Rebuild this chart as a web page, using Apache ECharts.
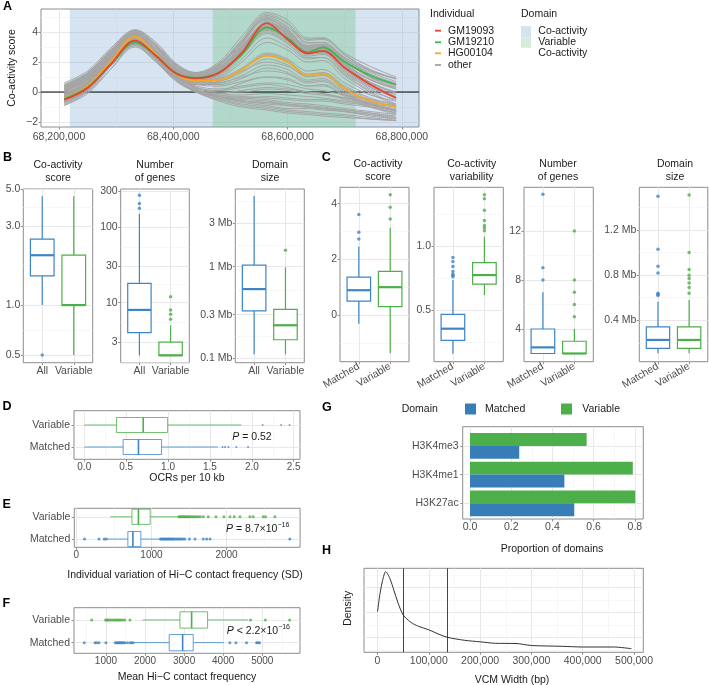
<!DOCTYPE html>
<html><head><meta charset="utf-8">
<script src="https://cdn.jsdelivr.net/npm/echarts@6/dist/echarts.min.js"></script>
<style>html,body{margin:0;padding:0;background:#fff}#c{width:709px;height:685px}</style>
</head><body><div id="c"></div>
<script>
// ---------------- DATA ----------------
// Panel A: co-activity score along the locus
const aX = [68209000, 68250000, 68290000, 68333000, 68370000, 68405000, 68440000, 68480000, 68520000, 68564000, 68600000, 68635000, 68662000, 68700000, 68745000, 68790000];
const aRed = [-0.52, 0.27, 1.84, 3.42, 2.4, 1.24, 0.92, 1.28, 2.63, 4.58, 3.5, 2.58, 2.74, 1.62, 0.5, -0.4];
const aGreen = [-0.45, 0.3, 1.8, 3.3, 2.4, 1.25, 0.95, 1.3, 2.5, 4.31, 3.6, 2.65, 2.97, 2.0, 1.1, 0.5];
const aOrange = [-0.45, 0.4, 2.0, 3.69, 2.5, 1.2, 0.75, 0.8, 1.5, 2.42, 2.0, 1.1, 1.22, 0.2, -0.6, -0.97];
const aGray = [
  [-0.9, -0.1, 1.5, 3.1, 2.0, 1.0, 0.7, 1.2, 2.7, 4.7, 4.1, 3.1, 3.2, 2.3, 1.4, 0.9],
  [0.6, 1.4, 2.9, 4.15, 3.3, 1.9, 1.3, 2.0, 3.7, 5.3, 4.8, 3.6, 3.6, 2.5, 1.5, 0.9],
  [0.2, 1.0, 2.5, 3.9, 2.9, 1.6, 1.0, 1.5, 3.2, 4.9, 4.1, 2.9, 3.0, 1.9, 0.8, 0.2],
  [-0.3, 0.6, 2.1, 3.6, 2.6, 1.4, 0.9, 1.4, 2.9, 4.4, 3.7, 2.7, 2.8, 1.6, 0.5, -0.2],
  [-0.7, 0.2, 1.8, 3.3, 2.3, 1.2, 0.8, 1.1, 2.4, 4.0, 3.3, 2.4, 2.5, 1.3, 0.2, -0.6],
  [0.0, 0.8, 2.3, 3.8, 2.8, 1.5, 1.1, 1.6, 3.0, 4.6, 4.0, 3.0, 3.1, 2.2, 1.2, 0.6],
  [-0.5, 0.4, 2.0, 3.5, 2.5, 1.3, 0.7, 1.0, 2.2, 3.6, 3.0, 2.2, 2.3, 1.1, 0.0, -0.8],
  [0.3, 1.1, 2.6, 4.0, 3.0, 1.7, 1.3, 1.9, 3.4, 5.1, 4.5, 3.3, 3.3, 2.3, 1.4, 0.9],
  [-0.2, 0.6, 2.2, 3.7, 2.7, 1.5, 1.0, 1.5, 2.7, 4.2, 3.5, 2.5, 2.6, 1.4, 0.3, -0.4],
  [-0.8, 0.1, 1.7, 3.2, 2.2, 1.0, 0.6, 0.9, 2.0, 3.3, 2.8, 2.0, 2.1, 0.9, -0.1, -0.9],
  [0.1, 0.9, 2.4, 3.8, 2.8, 1.6, 1.2, 1.8, 3.4, 5.0, 4.3, 3.5, 3.6, 2.6, 1.7, 1.0],
  [-0.4, 0.5, 2.0, 3.4, 2.4, 1.3, 0.9, 1.3, 2.6, 4.1, 3.4, 2.6, 2.8, 1.8, 0.8, 0.3],
  [0.4, 1.2, 2.7, 4.05, 3.1, 1.8, 1.2, 1.7, 3.3, 4.8, 4.2, 3.0, 3.0, 1.8, 0.6, -0.1],
  [-0.6, 0.3, 1.9, 3.4, 2.4, 1.2, 0.8, 1.3, 2.9, 4.5, 3.9, 2.8, 2.9, 2.0, 1.0, 0.5],
  [0.5, 1.3, 2.8, 4.1, 3.1, 1.7, 1.1, 1.6, 3.1, 4.6, 3.8, 2.6, 2.6, 1.5, 0.4, -0.3],
  [-0.1, 0.7, 2.2, 3.6, 2.6, 1.4, 0.9, 1.2, 2.5, 3.9, 3.2, 2.3, 2.3, 1.2, 0.1, -0.5],
  [0.45, 1.25, 2.75, 4.1, 3.2, 1.85, 1.25, 1.85, 3.5, 5.2, 4.6, 3.45, 3.5, 2.45, 1.45, 0.85],
  [0.25, 1.05, 2.55, 3.95, 3.0, 1.7, 1.15, 1.7, 3.3, 5.0, 4.35, 3.25, 3.3, 2.2, 1.1, 0.45],
  [-0.15, 0.65, 2.15, 3.65, 2.7, 1.5, 1.0, 1.45, 3.0, 4.65, 4.0, 2.95, 3.05, 2.05, 1.0, 0.4],
  [-0.45, 0.45, 1.95, 3.45, 2.5, 1.35, 0.85, 1.3, 2.8, 4.35, 3.75, 2.75, 2.85, 1.85, 0.85, 0.2],
  [0.05, 0.85, 2.35, 3.75, 2.75, 1.45, 0.95, 1.4, 2.85, 4.45, 3.85, 2.8, 2.9, 1.75, 0.65, 0.0],
  [-0.65, 0.25, 1.85, 3.3, 2.35, 1.2, 0.75, 1.15, 2.55, 4.15, 3.55, 2.55, 2.65, 1.5, 0.35, -0.35],
  [0.35, 1.15, 2.65, 4.0, 3.05, 1.75, 1.2, 1.75, 3.25, 4.85, 4.15, 3.1, 3.15, 2.1, 0.95, 0.3],
  [-0.25, 0.55, 2.05, 3.5, 2.55, 1.35, 0.85, 1.25, 2.65, 4.25, 3.6, 2.6, 2.7, 1.65, 0.6, -0.05],
  [0.15, 0.95, 2.45, 3.85, 2.9, 1.6, 1.05, 1.55, 3.05, 4.55, 3.95, 2.9, 3.0, 2.15, 1.3, 0.7],
  [-0.3, 0.6, 2.2, 3.7, 2.6, 1.2, 0.6, 0.7, 1.3, 2.2, 1.8, 1.0, 1.1, 0.1, -0.7, -1.2],
  [0.1, 0.9, 2.5, 3.9, 2.8, 1.3, 0.6, 0.6, 1.1, 1.8, 1.5, 0.8, 0.9, 0.0, -0.8, -1.3],
  [-0.6, 0.2, 1.8, 3.3, 2.3, 1.0, 0.5, 0.6, 1.0, 1.4, 1.2, 0.6, 0.7, -0.2, -0.9, -1.4],
  [0.4, 1.2, 2.7, 4.0, 3.0, 1.5, 0.8, 0.9, 1.6, 2.6, 2.2, 1.4, 1.5, 0.6, -0.2, -0.6],
  [-0.2, 0.7, 2.3, 3.6, 2.6, 1.2, 0.5, 0.4, 0.7, 1.0, 0.9, 0.4, 0.5, -0.3, -1.0, -1.5],
  [-0.7, 0.1, 1.7, 3.2, 2.2, 1.0, 0.5, 0.7, 1.4, 2.0, 1.7, 1.1, 1.2, 0.3, -0.5, -1.0],
  [0.2, 1.0, 2.5, 3.8, 2.7, 1.3, 0.7, 0.8, 1.5, 2.5, 2.1, 1.2, 1.3, 0.4, -0.4, -0.9],
  [-0.4, 0.4, 2.0, 3.4, 2.4, 1.1, 0.5, 0.5, 0.9, 1.6, 1.3, 0.7, 0.8, -0.1, -0.8, -1.3],
  [-0.5, 0.4, 2.0, 3.5, 2.3, 0.9, 0.1, -0.3, -0.5, -0.6, -0.8, -0.9, -1.0, -1.2, -1.4, -1.6],
  [0.0, 0.8, 2.3, 3.7, 2.5, 1.0, 0.2, -0.2, -0.3, -0.4, -0.5, -0.6, -0.6, -0.8, -1.0, -1.2],
  [-0.8, 0.1, 1.7, 3.1, 2.0, 0.7, 0.0, -0.5, -0.8, -1.0, -1.2, -1.3, -1.4, -1.5, -1.7, -1.9],
  [0.3, 1.1, 2.6, 3.9, 2.7, 1.2, 0.3, -0.1, -0.2, -0.1, -0.2, -0.3, -0.4, -0.6, -0.8, -1.0],
  [-0.4, 0.5, 2.1, 3.5, 2.4, 1.0, 0.2, -0.4, -0.7, -0.9, -1.1, -1.1, -1.2, -1.3, -1.5, -1.7],
  [-0.2, 0.6, 2.1, 3.4, 2.3, 0.9, 0.0, -0.3, -0.4, -0.3, -0.4, -0.5, -0.5, -0.7, -0.9, -1.1],
  [0.2, 1.0, 2.4, 3.6, 2.5, 1.1, 0.3, 0.0, 0.0, 0.2, 0.1, -0.1, -0.2, -0.4, -0.7, -0.9],
  [-0.6, 0.3, 1.9, 3.2, 2.1, 0.8, 0.0, -0.6, -1.0, -1.2, -1.4, -1.5, -1.6, -1.7, -1.8, -1.9],
  [-0.1, 0.7, 2.2, 3.6, 2.4, 1.0, 0.4, 0.2, 0.4, 0.6, 0.5, 0.2, 0.1, -0.2, -0.5, -0.8],
  [-0.9, 0.0, 1.5, 3.0, 2.0, 0.8, 0.1, -0.4, -0.6, -0.8, -0.9, -1.0, -1.1, -1.3, -1.6, -1.8],
  [0.1, 0.9, 2.4, 3.8, 2.6, 1.1, 0.2, -0.3, -0.6, -0.7, -0.9, -1.0, -1.1, -1.3, -1.5, -1.8],
  [-0.3, 0.5, 2.0, 3.4, 2.2, 0.9, 0.1, -0.1, 0.1, 0.3, 0.2, 0.0, -0.1, -0.5, -1.0, -1.4],
  [-0.3, 0.5, 2.0, 3.3, 2.2, 0.8, 0.0, -0.5, -0.9, -1.1, -1.3, -1.4, -1.5, -1.6, -1.8, -1.9],
  [0.0, 0.8, 2.2, 3.5, 2.3, 0.9, 0.1, -0.2, -0.4, -0.5, -0.7, -0.8, -0.9, -1.1, -1.3, -1.5],
  [-0.7, 0.2, 1.8, 3.2, 2.1, 0.8, 0.1, -0.3, -0.6, -0.7, -0.8, -1.0, -1.1, -1.2, -1.4, -1.7],
  [0.4, 1.2, 2.6, 3.8, 2.6, 1.1, 0.3, 0.1, 0.3, 0.5, 0.3, 0.0, -0.1, -0.4, -0.8, -1.2],
  [-0.5, 0.3, 1.9, 3.3, 2.3, 1.0, 0.3, 0.1, 0.6, 1.0, 0.8, 0.4, 0.4, -0.2, -0.8, -1.3]
];
const aDomainBlue = [68219000, 68830000];
const aDomainGreen = [68469000, 68719000];
const aXTicks = [68200000, 68400000, 68600000, 68800000];
const aYTicks = [-2, 0, 2, 4];
const aNames = ['GM19093', 'GM19210', 'HG00104', 'other'];

// Panel B: [low whisker, Q1, median, Q3, high whisker] + outliers
const bCats = ['All', 'Variable'];
const b1Box = [[1.0, 1.5, 2.0, 2.5, 4.54], [0.5, 1.0, 1.0, 2.0, 4.54]];
const b1Out = [[0.5], []];
const b1Ticks = [0.5, 1.0, 3.0, 5.0];
const b2Box = [[2, 4, 8, 18, 150], [2, 2, 2, 3, 5]];
const b2Out = [[178, 205, 264], [6, 7, 8, 12]];
const b2Ticks = [3, 10, 30, 100, 300];
const b3Box = [[0.111, 0.33, 0.57, 1.04, 5.9], [0.111, 0.16, 0.23, 0.343, 0.985]];
const b3Out = [[], [1.51]];
const b3Ticks = [0.1, 0.3, 1, 3];

// Panel C
const cCats = ['Matched', 'Variable'];
const c1Box = [[-0.32, 0.5, 0.89, 1.36, 2.46], [-1.38, 0.3, 1.0, 1.57, 3.14]];
const c1Out = [[2.73, 2.97, 3.61], [3.45, 3.87, 4.32]];
const c2Box = [[0.159, 0.263, 0.354, 0.466, 0.734], [0.617, 0.703, 0.773, 0.87, 1.073]];
const c2Out = [[0.76, 0.77, 0.78, 0.80, 0.84, 0.88, 0.91], [1.12, 1.14, 1.16, 1.20, 1.28, 1.37, 1.40]];
const c3Box = [[2, 2, 2.5, 4, 7], [2, 2, 2, 3, 4]];
const c3Out = [[8, 9, 15], [5, 6, 7, 8, 12]];
const c4Box = [[0.107, 0.152, 0.226, 0.341, 0.565], [0.107, 0.152, 0.226, 0.341, 0.58]];
const c4Out = [[0.62, 0.63, 0.64, 0.82, 0.88, 1.03, 1.50], [0.64, 0.69, 0.73, 0.77, 0.80, 0.85, 1.0, 1.51]];

// Panels D, E, F (index 0 = Matched, 1 = Variable)
const dBox = [[0, 0.464, 0.647, 0.923, 1.595], [0, 0.384, 0.704, 0.995, 1.875]];
const dOut = [[1.65, 1.68, 1.72, 1.815, 1.955], [2.13, 2.35, 2.45]];
const dTicks = [0, 0.5, 1.0, 1.5, 2.0, 2.5];
const eBox = [[407, 686, 753, 859, 1115], [451, 740, 827, 983, 1359]];
const eOut = [
  [110, 301, 372, 398, 1120, 1135, 1150, 1165, 1180, 1195, 1210, 1225, 1240, 1255, 1270, 1285, 1300, 1320, 1340, 1360, 1380, 1400, 1420, 1445, 1505, 1580, 1690, 1735, 1780, 2842],
  [1365, 1380, 1395, 1410, 1425, 1440, 1455, 1470, 1485, 1500, 1520, 1540, 1560, 1580, 1600, 1625, 1650, 1690, 1757, 1859, 1965, 2045, 2102, 2178, 2311, 2355, 2488, 2519, 2643]
];
const eTicks = [0, 1000, 2000];
const fBox = [[1742, 2619, 2962, 3233, 4018], [1939, 2893, 3192, 3601, 4640]];
const fOut = [
  [445, 720, 760, 820, 1000, 1240, 1270, 1300, 1330, 1360, 1390, 1420, 1450, 1480, 1550, 1620, 1660, 1700, 4171, 4325, 4598, 4855, 4890, 4930],
  [634, 990, 1020, 1050, 1090, 1130, 1180, 1220, 1260, 1300, 1340, 1380, 1430, 1480, 1614, 4700, 5080, 5700]
];
const fTicks = [1000, 2000, 3000, 4000, 5000];

// Panel G
const gMarks = ['H3K27ac', 'H3K4me1', 'H3K4me3'];
const gMatched = [0.506, 0.458, 0.239];
const gVariable = [0.802, 0.79, 0.566];
const gTicks = [0, 0.2, 0.4, 0.6, 0.8];

// Panel H: density of VCM width
const hX = [0, 5000, 10000, 16000, 24000, 32000, 40000, 50000, 65000, 80000, 100000, 120000, 136000, 170000, 200000, 230000, 270000, 300000, 360000, 400000, 460000, 495000];
const hDensity = [4.06, 5.9, 7.2, 8.06, 7.4, 6.2, 4.95, 3.75, 3.0, 2.6, 2.25, 1.8, 1.5, 1.2, 1.05, 0.9, 0.88, 0.68, 0.6, 0.53, 0.53, 0.36];
const hVlines = [50300, 136000];
const hTicks = [0, 100000, 200000, 300000, 400000, 500000];

// ---------------- STYLE / BUILD ----------------
const FONT = '"Liberation Sans", Arial, Helvetica, sans-serif';
const BLUE = '#3d85c6', GREEN = '#4daf4a';
const BAR_BLUE = '#377eb8', BAR_GREEN = '#4daf4a';
const grids = [], xAxes = [], yAxes = [], series = [], graphics = [];
const L10 = Math.log10;
const comma = v => Math.round(v).toString().replace(/\B(?=(\d{3})+(?!\d))/g, ',');
const minus = s => String(s).replace('-', '\u2212');

function mkAxis(gi, dim, o, minor) {
  const base = {
    type: 'value', gridIndex: gi, min: o.min, max: o.max,
    position: dim === 'x' ? 'bottom' : 'left',
    axisLine: { show: false, onZero: false },
    splitArea: { show: false }
  };
  if (minor) {
    const m = o.minors || [];
    return Object.assign(base, {
      axisTick: { show: false, customValues: m },
      axisLabel: { show: false, customValues: m },
      splitLine: { show: m.length > 0, lineStyle: { color: '#f1f1f1', width: 0.6 } }
    });
  }
  return Object.assign(base, {
    axisTick: { show: o.tick !== false, customValues: o.majors, length: 2.5, lineStyle: { color: '#666', width: 0.7 } },
    axisLabel: { show: o.label !== false, customValues: o.majors, formatter: o.fmt, color: '#4d4d4d',
      fontSize: o.fs || 10.5, fontFamily: FONT, margin: (o.margin != null ? o.margin : 3), rotate: o.rotate || 0 },
    splitLine: { show: o.grid !== false, lineStyle: { color: '#e8e8e8', width: 1 } }
  });
}
function addPanel(box, xo, yo) {
  const gi = grids.length;
  grids.push({ left: box[0], top: box[1], width: box[2], height: box[3], show: true,
    borderColor: '#8c8c8c', borderWidth: 1, backgroundColor: '#fff', containLabel: false });
  const xi = xAxes.length, yi = yAxes.length;
  xAxes.push(mkAxis(gi, 'x', xo, false)); xAxes.push(mkAxis(gi, 'x', xo, true));
  yAxes.push(mkAxis(gi, 'y', yo, false)); yAxes.push(mkAxis(gi, 'y', yo, true));
  return { xi, yi };
}
function boxSeries(p, stats, tf, colors, o) {
  const data = stats.map((s, i) => [i + 1].concat(s.map(tf)).concat([i]));
  series.push({
    type: 'custom', xAxisIndex: p.xi, yAxisIndex: p.yi, data, z: 5, silent: true,
    renderItem(params, api) {
      const pos = api.value(0), lo = api.value(1), q1 = api.value(2), med = api.value(3), q3 = api.value(4), hi = api.value(5);
      const col = colors[api.value(6)];
      const P = (a, v) => o.horiz ? api.coord([v, a]) : api.coord([a, v]);
      const hw = o.half;
      const ln = (a, b, w) => ({ type: 'line', shape: { x1: a[0], y1: a[1], x2: b[0], y2: b[1] }, style: { stroke: col, lineWidth: w } });
      const a = P(pos - hw, q1), b = P(pos + hw, q3);
      return { type: 'group', children: [
        ln(P(pos, lo), P(pos, q1), o.lw),
        ln(P(pos, q3), P(pos, hi), o.lw),
        { type: 'rect', shape: { x: Math.min(a[0], b[0]), y: Math.min(a[1], b[1]), width: Math.abs(b[0] - a[0]), height: Math.abs(b[1] - a[1]) },
          style: { fill: '#fff', stroke: col, lineWidth: o.lw } },
        ln(P(pos - hw, med), P(pos + hw, med), o.mw)
      ] };
    }
  });
}
function outSeries(p, outs, tf, colors, o) {
  outs.forEach((arr, i) => {
    series.push({ type: 'scatter', xAxisIndex: p.xi, yAxisIndex: p.yi, silent: true, z: 6,
      symbolSize: o.size, itemStyle: { color: colors[i] },
      data: arr.map(v => o.horiz ? [tf(v), i + 1] : [i + 1, tf(v)]) });
  });
}
function txt(s, x, y, o) {
  o = o || {};
  const st = { text: s, fill: o.color || '#1a1a1a', fontSize: o.fs || 10.5, fontFamily: FONT,
    fontWeight: o.bold ? 'bold' : 'normal', fontStyle: o.italic ? 'italic' : 'normal',
    align: o.align || 'left', verticalAlign: o.valign || 'middle',
    textAlign: o.align || 'left', textVerticalAlign: o.valign || 'middle' };
  if (o.lh) st.lineHeight = o.lh;
  if (o.rich) st.rich = o.rich;
  graphics.push({ type: 'text', x, y, rotation: o.rot || 0, silent: true, z: 100, style: st });
}
function rect(x, y, w, h, fill) {
  graphics.push({ type: 'rect', silent: true, z: 100, shape: { x, y, width: w, height: h }, style: { fill } });
}
const ident = v => v;
const bc = [BLUE, GREEN];

// ---------- Panel A ----------
const pA = addPanel([41, 9, 378, 118],
  { min: 68168500, max: 68830000, majors: aXTicks, minors: [68300000, 68500000, 68700000], fmt: comma, fs: 10.5, margin: 4.5 },
  { min: -2.33, max: 5.53, majors: aYTicks, minors: [-1, 1, 3, 5], fmt: v => minus(v), fs: 10.5 });
series.push({
  type: 'line', xAxisIndex: pA.xi, yAxisIndex: pA.yi, z: 1, silent: true, showSymbol: false,
  data: [[68168500, 0], [68830000, 0]], lineStyle: { color: '#000', width: 1 },
  markArea: { silent: true, data: [
    [{ xAxis: aDomainBlue[0], itemStyle: { color: 'rgba(120,165,210,0.3)' } }, { xAxis: aDomainBlue[1] }],
    [{ xAxis: aDomainGreen[0], itemStyle: { color: 'rgba(110,195,130,0.35)' } }, { xAxis: aDomainGreen[1] }]
  ] }
});
aGray.forEach(g => series.push({ type: 'line', name: 'other', xAxisIndex: pA.xi, yAxisIndex: pA.yi, z: 2, silent: true,
  showSymbol: false, smooth: 0.35, data: aX.map((x, i) => [x, g[i]]), lineStyle: { color: '#a5a5a5', width: 1 } }));
[[aOrange, '#f5a623'], [aGreen, '#3cb64a'], [aRed, '#e8432f']].forEach(([d, c]) =>
  series.push({ type: 'line', xAxisIndex: pA.xi, yAxisIndex: pA.yi, z: 3, silent: true, showSymbol: false, smooth: 0.35,
    data: aX.map((x, i) => [x, d[i]]), lineStyle: { color: c, width: 1.7 } }));
txt('Co-activity score', 12, 68, { rot: Math.PI / 2, align: 'center', fs: 10.5 });
// Legend A
txt('Individual', 430, 14, { fs: 10.5 });
const legCols = ['#e8432f', '#3cb64a', '#f5a623', '#a3a3a3'];
aNames.forEach((n, i) => {
  const y = [30.7, 42.3, 53.3, 65][i];
  rect(435, y - 0.9, 6, 1.8, legCols[i]);
  txt(n, 448, y, { fs: 10.5 });
});
txt('Domain', 521, 14, { fs: 10.5 });
rect(521, 26, 10, 11, '#d6e4f0');
rect(521, 37.3, 10, 10.5, '#d5ecda');
txt('Co-activity', 538.3, 30.7, { fs: 10.5 });
txt('Variable', 538.3, 42.3, { fs: 10.5 });
txt('Co-activity', 538.3, 53.3, { fs: 10.5 });

// ---------- Panel B ----------
const catAxis = (cats, extra) => Object.assign({ min: 0.4, max: 2.6, majors: [1, 2], fmt: v => cats[Math.round(v) - 1], fs: 10.5 }, extra || {});
const pB1 = addPanel([23.3, 189, 69.4, 173.7], catAxis(bCats),
  { min: L10(0.449), max: L10(5.02), majors: b1Ticks.map(L10), minors: [-0.1505, 0.2386, 0.588], fmt: v => Math.pow(10, v).toFixed(1), fs: 10.5 });
boxSeries(pB1, b1Box, L10, bc, { half: 0.375, lw: 1.2, mw: 2.2 });
outSeries(pB1, b1Out, L10, bc, { size: 3.5 });
const pB2 = addPanel([120.7, 189, 68.6, 173.7], catAxis(bCats),
  { min: L10(1.6), max: L10(320), majors: b2Ticks.map(L10), minors: [0.2155, 0.739, 1.239, 1.739, 2.239], fmt: v => String(Math.round(Math.pow(10, v))), fs: 10.5 });
boxSeries(pB2, b2Box, L10, bc, { half: 0.375, lw: 1.2, mw: 2.2 });
outSeries(pB2, b2Out, L10, bc, { size: 3.5 });
const pB3 = addPanel([235.3, 189, 69, 173.7], catAxis(bCats),
  { min: -1.046, max: 0.846, majors: b3Ticks.map(L10), minors: [-0.7615, -0.2615, 0.2385, 0.7155], fmt: v => (Math.round(Math.pow(10, v) * 10) / 10) + ' Mb', fs: 10.5 });
boxSeries(pB3, b3Box, L10, bc, { half: 0.375, lw: 1.2, mw: 2.2 });
outSeries(pB3, b3Out, L10, bc, { size: 3.5 });
txt('Co-activity\nscore', 58, 171.5, { align: 'center', lh: 12.5, fs: 10.5 });
txt('Number\nof genes', 155, 171.5, { align: 'center', lh: 12.5, fs: 10.5 });
txt('Domain\nsize', 270, 171.5, { align: 'center', lh: 12.5, fs: 10.5 });

// ---------- Panel C ----------
const cx = catAxis(cCats, { rotate: 30, margin: 4 });
const pC1 = addPanel([340, 187.3, 69, 174.4], cx, { min: -1.68, max: 4.59, majors: [0, 2, 4], minors: [-1, 1, 3], fmt: v => String(v) });
boxSeries(pC1, c1Box, ident, bc, { half: 0.375, lw: 1.2, mw: 2.2 });
outSeries(pC1, c1Out, ident, bc, { size: 3.5 });
const pC2 = addPanel([434, 187.3, 69.3, 174.4], cx, { min: 0.096, max: 1.459, majors: [0.5, 1.0], minors: [0.25, 0.75, 1.25], fmt: v => v.toFixed(1) });
boxSeries(pC2, c2Box, ident, bc, { half: 0.375, lw: 1.2, mw: 2.2 });
outSeries(pC2, c2Out, ident, bc, { size: 3.5 });
const pC3 = addPanel([524, 187.3, 69.3, 174.4], cx, { min: 1.33, max: 15.57, majors: [4, 8, 12], minors: [2, 6, 10, 14], fmt: v => String(v) });
boxSeries(pC3, c3Box, ident, bc, { half: 0.375, lw: 1.2, mw: 2.2 });
outSeries(pC3, c3Out, ident, bc, { size: 3.5 });
const pC4 = addPanel([639.3, 187.3, 68.5, 174.4], cx, { min: 0.033, max: 1.579, majors: [0.4, 0.8, 1.2], minors: [0.2, 0.6, 1.0, 1.4], fmt: v => v.toFixed(1) + ' Mb' });
boxSeries(pC4, c4Box, ident, bc, { half: 0.375, lw: 1.2, mw: 2.2 });
outSeries(pC4, c4Out, ident, bc, { size: 3.5 });
txt('Co-activity\nscore', 378, 170.5, { align: 'center', lh: 12.5 });
txt('Co-activity\nvariability', 471.7, 170.5, { align: 'center', lh: 12.5 });
txt('Number\nof genes', 558, 170.5, { align: 'center', lh: 12.5 });
txt('Domain\nsize', 675, 170.5, { align: 'center', lh: 12.5 });

// ---------- Panels D, E, F ----------
const hcat = (min, max) => ({ min, max, majors: [1, 2], fmt: v => cCats[Math.round(v) - 1], fs: 10.5, margin: 4 });
const pD = addPanel([74, 410.7, 226, 48.6],
  { min: -0.1225, max: 2.575, majors: dTicks, minors: [0.25, 0.75, 1.25, 1.75, 2.25], fmt: v => v.toFixed(1), fs: 10 }, hcat(0.44, 2.65));
boxSeries(pD, dBox, ident, bc, { half: 0.34, lw: 0.8, mw: 1.6, horiz: true });
outSeries(pD, dOut, ident, bc, { size: 2, horiz: true });
txt('OCRs per 10 kb', 187, 477.7, { align: 'center', fs: 10.5 });
graphics.push({ type: 'text', x: 271.7, y: 436.7, silent: true, z: 100, style: {
  text: '{i|P}{n| = 0.52}', align: 'right', verticalAlign: 'middle', textAlign: 'right', textVerticalAlign: 'middle',
  rich: { i: { fontStyle: 'italic', fontSize: 10.5, fontFamily: FONT, fill: '#1a1a1a' }, n: { fontSize: 10.5, fontFamily: FONT, fill: '#1a1a1a' } } } });

const pE = addPanel([74.3, 508.3, 225.8, 39],
  { min: -27, max: 2979, majors: eTicks, minors: [500, 1500, 2500], fmt: v => String(v), fs: 10 }, hcat(0.63, 2.38));
boxSeries(pE, eBox, ident, bc, { half: 0.34, lw: 0.8, mw: 1.6, horiz: true });
outSeries(pE, eOut, ident, bc, { size: 3, horiz: true });
txt('Individual variation of Hi\u2212C contact frequency (SD)', 185, 575, { align: 'center', fs: 10.5 });
const supRich = {
  i: { fontStyle: 'italic', fontSize: 10.5, fontFamily: FONT, fill: '#1a1a1a', lineHeight: 13, verticalAlign: 'bottom' },
  n: { fontSize: 10.5, fontFamily: FONT, fill: '#1a1a1a', lineHeight: 13, verticalAlign: 'bottom' },
  s: { fontSize: 7, fontFamily: FONT, fill: '#1a1a1a', lineHeight: 8, verticalAlign: 'top' } };
graphics.push({ type: 'text', x: 289.3, y: 528.3, silent: true, z: 100, style: {
  text: '{i|P}{n| = 8.7\u00d710}{s|\u221216}', align: 'right', verticalAlign: 'middle', textAlign: 'right', textVerticalAlign: 'middle', rich: supRich } });

const pF = addPanel([74, 607.7, 226, 45.6],
  { min: 182, max: 5966, majors: fTicks, minors: [500, 1500, 2500, 3500, 4500, 5500], fmt: v => String(v), fs: 10 }, hcat(0.53, 2.54));
boxSeries(pF, fBox, ident, bc, { half: 0.36, lw: 0.8, mw: 1.6, horiz: true });
outSeries(pF, fOut, ident, bc, { size: 3, horiz: true });
txt('Mean Hi\u2212C contact frequency', 187, 677, { align: 'center', fs: 10.5 });
graphics.push({ type: 'text', x: 290, y: 630, silent: true, z: 100, style: {
  text: '{i|P}{n| < 2.2\u00d710}{s|\u221216}', align: 'right', verticalAlign: 'middle', textAlign: 'right', textVerticalAlign: 'middle', rich: supRich } });

// ---------- Panel G ----------
const pG = addPanel([462.7, 426.7, 180.6, 92.3],
  { min: -0.0354, max: 0.841, majors: gTicks, minors: [0.1, 0.3, 0.5, 0.7], fmt: v => v.toFixed(1), fs: 10.5 },
  { min: 0.453, max: 3.67, majors: [1, 2, 3], fmt: v => gMarks[Math.round(v) - 1], fs: 10.5, margin: 4 });
function barSeries(vals, color, upper) {
  series.push({ type: 'custom', xAxisIndex: pG.xi, yAxisIndex: pG.yi, z: 5, silent: true,
    data: vals.map((v, i) => [v, i + 1]),
    renderItem(params, api) {
      const v = api.value(0), pos = api.value(1);
      const a = api.coord([0, upper ? pos + 0.45 : pos]);
      const b = api.coord([v, upper ? pos : pos - 0.45]);
      return { type: 'rect', shape: { x: a[0], y: a[1], width: b[0] - a[0], height: b[1] - a[1] }, style: { fill: color } };
    } });
}
barSeries(gVariable, BAR_GREEN, true);
barSeries(gMatched, BAR_BLUE, false);
txt('Proportion of domains', 552, 549.3, { align: 'center', fs: 10.5 });
txt('Domain', 401.7, 409.3, { fs: 10.5 });
rect(465, 403.5, 11, 11, BAR_BLUE);
txt('Matched', 485, 409.3, { fs: 10.5 });
rect(561, 403.5, 11, 11, BAR_GREEN);
txt('Variable', 582.3, 409.3, { fs: 10.5 });

// ---------- Panel H ----------
const pH = addPanel([364, 568.3, 279.3, 84],
  { min: -26300, max: 518100, majors: hTicks, minors: [50000, 150000, 250000, 350000, 450000], fmt: comma, fs: 10.5 },
  { min: 0, max: 8.4, majors: [1.5, 4, 6.5], minors: [0.25, 2.75, 5.25, 7.75], label: false, tick: false });
series.push({ type: 'line', xAxisIndex: pH.xi, yAxisIndex: pH.yi, z: 5, silent: true, showSymbol: false, smooth: 0.3,
  data: hX.map((x, i) => [x, hDensity[i]]), lineStyle: { color: '#333', width: 1 },
  markLine: { silent: true, symbol: 'none', label: { show: false }, lineStyle: { color: '#444', width: 1, type: 'solid' },
    data: hVlines.map(x => ({ xAxis: x })) } });
txt('Density', 348.3, 608.3, { rot: Math.PI / 2, align: 'center', fs: 10.5 });
txt('VCM Width (bp)', 512, 680, { align: 'center', fs: 10.5 });

// Panel letters
[['A', 3, 7], ['B', 3, 157.5], ['C', 321.7, 157.5], ['D', 2.5, 407], ['E', 2.5, 504.5], ['F', 2.5, 604], ['G', 322, 407.5], ['H', 322, 551]]
  .forEach(([l, x, y]) => txt(l, x, y, { bold: true, fs: 12.5, color: '#000' }));

const chart = echarts.init(document.getElementById('c'), null, { renderer: 'canvas' });
chart.setOption({ animation: false, backgroundColor: '#fff', grid: grids, xAxis: xAxes, yAxis: yAxes, series, graphic: { elements: graphics } });
</script></body></html>
